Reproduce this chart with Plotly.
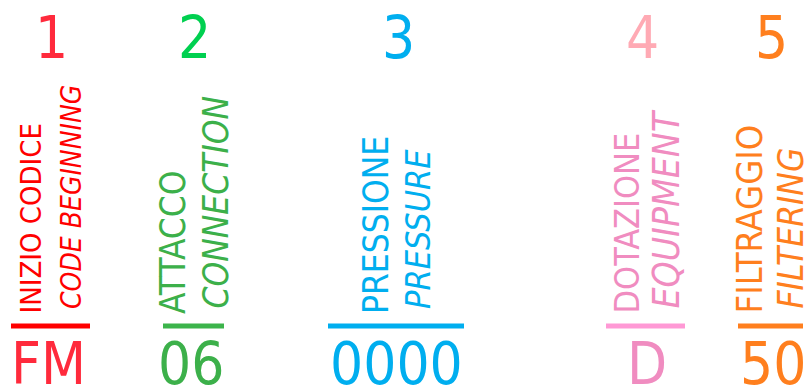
import plotly.graph_objects as go

# order-code groups, left to right
group_numbers = ["1", "2", "3", "4", "5"]
labels_it = ["INIZIO CODICE", "ATTACCO", "PRESSIONE", "DOTAZIONE", "FILTRAGGIO"]
labels_en = ["CODE BEGINNING", "CONNECTION", "PRESSURE", "EQUIPMENT", "FILTERING"]
code_values = ["FM", "06", "0000", "D", "50"]

# colours per group: number, labels, rule line, code
number_colors = ["#ff2a3c", "#00d050", "#00aeef", "#ffaab4", "#ff7f1e"]
label_colors = ["#ff0000", "#3cb04a", "#00aeef", "#f08cc0", "#ff7f1e"]
line_colors = ["#ff0000", "#3cb44b", "#00aeef", "#ff99d5", "#ff7f1e"]
code_colors = ["#ff2a3c", "#3cb04a", "#00aeef", "#f08cc0", "#ff7f1e"]

# layout in pixel units of the 808x387 canvas
seg_start = [11, 163, 328, 606, 738]
seg_end = [90, 224, 464, 685, 803]
number_x = [51, 194, 398, 642, 771]
code_x = [48, 191, 396, 647, 773]
label_it_x = [30, 173, 376, 626, 749]
label_en_x = [71, 215, 418, 666, 790]
# font sizes tuned so each vertical label has the reference length
label_it_size = [29, 35, 35, 34, 36]
label_en_size = [28, 35, 34, 37, 35]

FONT = "DejaVu Sans Condensed, Liberation Sans Narrow, Roboto Condensed, DejaVu Sans"

fig = go.Figure()
annotations = []
for i in range(len(group_numbers)):
    fig.add_trace(
        go.Scatter(
            x=[seg_start[i], seg_end[i]],
            y=[326, 326],
            mode="lines",
            line=dict(color=line_colors[i], width=5),
            hoverinfo="skip",
            showlegend=False,
        )
    )
    annotations.append(
        dict(x=number_x[i], y=38, text=group_numbers[i], showarrow=False,
             font=dict(family=FONT, size=58, color=number_colors[i]),
             xanchor="center", yanchor="middle")
    )
    annotations.append(
        dict(x=code_x[i], y=364, text=code_values[i], showarrow=False,
             font=dict(family=FONT, size=58, color=code_colors[i]),
             xanchor="center", yanchor="middle")
    )
    annotations.append(
        dict(x=label_it_x[i], y=316, text=labels_it[i], showarrow=False,
             textangle=-90,
             font=dict(family=FONT, size=label_it_size[i], color=label_colors[i]),
             xanchor="center", yanchor="bottom")
    )
    annotations.append(
        dict(x=label_en_x[i], y=311, text="<i>" + labels_en[i] + "</i>",
             showarrow=False, textangle=-90,
             font=dict(family=FONT, size=label_en_size[i], color=label_colors[i]),
             xanchor="center", yanchor="bottom")
    )

fig.update_xaxes(range=[0, 808], visible=False, fixedrange=True)
fig.update_yaxes(range=[387, 0], visible=False, fixedrange=True)
fig.update_layout(
    width=808,
    height=387,
    margin=dict(l=0, r=0, t=0, b=0),
    plot_bgcolor="white",
    paper_bgcolor="white",
    annotations=annotations,
)

fig.write_html(
    "out.html",
    config={"displayModeBar": False},
    post_script="document.body.style.margin='0';",
)
